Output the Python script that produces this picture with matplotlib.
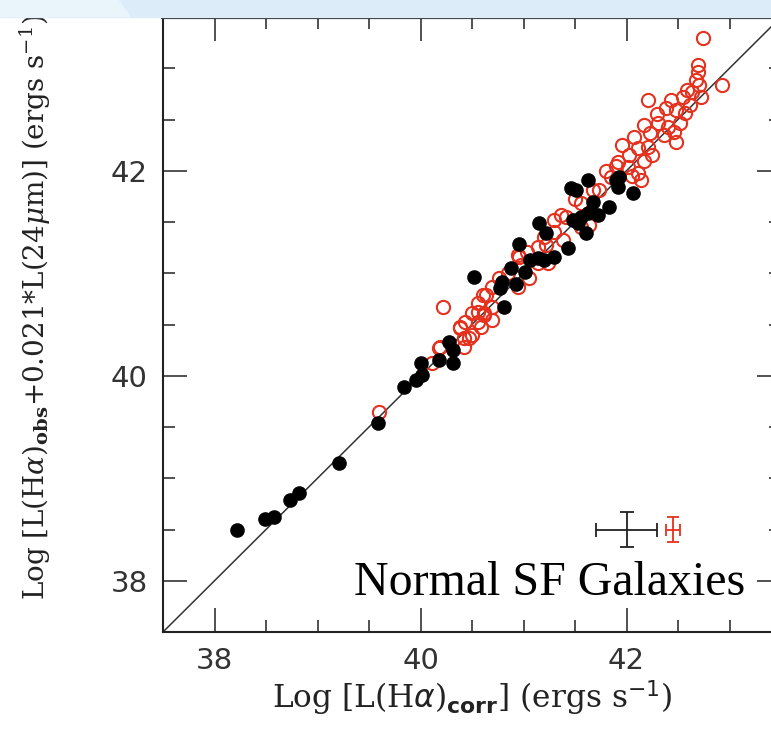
import numpy as np
import matplotlib
matplotlib.use('Agg')
import matplotlib.pyplot as plt
from matplotlib.ticker import MultipleLocator
from matplotlib.patches import Rectangle, Polygon

# black filled points (log L(Ha)corr, log L(Ha)obs+0.021 L24)
black_x = [38.22, 38.49, 38.58, 38.73, 38.82, 39.21, 39.59, 39.84, 39.96, 40.01,
           40.00, 40.18, 40.28, 40.32, 40.32, 40.52, 40.81, 40.79, 40.77, 40.88,
           41.01, 40.93, 41.06, 41.14, 41.20, 40.96, 41.15, 41.22, 41.30, 41.43,
           41.48, 41.53, 41.56, 41.61, 41.63, 41.67, 41.72, 41.83, 41.46, 41.51,
           41.63, 41.90, 41.93, 41.92, 42.06]
black_y = [38.50, 38.60, 38.62, 38.79, 38.86, 39.15, 39.54, 39.89, 39.96, 40.01,
           40.12, 40.15, 40.33, 40.25, 40.12, 40.96, 40.67, 40.91, 40.86, 41.05,
           41.01, 40.90, 41.13, 41.15, 41.13, 41.29, 41.49, 41.39, 41.16, 41.25,
           41.52, 41.49, 41.55, 41.39, 41.59, 41.70, 41.57, 41.65, 41.83, 41.81,
           41.91, 41.91, 41.94, 41.84, 41.78]

# red open circles
red_x = [39.60, 40.22, 40.18, 40.11, 40.38, 40.47, 40.42, 40.56, 40.62, 40.64,
         40.69, 40.56, 40.69, 40.95, 40.96,
         42.21, 42.48, 42.57, 42.52, 42.46, 42.17, 42.31, 42.40, 42.07, 42.23,
         41.96, 42.11, 42.21, 42.48, 42.36, 41.92, 42.01, 42.17, 42.11, 42.14,
         41.85, 41.73, 41.67, 41.41, 41.36, 41.30, 41.56, 41.64, 41.56, 41.30,
         41.38, 41.22, 41.14, 41.03, 41.14, 41.24, 40.95, 40.98, 40.76, 40.69,
         40.61, 40.56, 40.62, 40.50, 40.43, 40.38, 40.19, 40.42, 40.50, 40.59,
         42.74, 42.69, 42.69, 42.67, 42.93, 42.70, 42.59, 42.55, 42.64, 42.43,
         42.72, 42.38, 42.62,
         41.80, 42.02, 42.30, 41.50, 41.20, 40.85, 41.05, 42.05, 41.90, 42.25]
red_y = [39.65, 40.67, 40.27, 40.12, 40.48, 40.37, 40.28, 40.52, 40.61, 40.79,
         40.67, 40.62, 40.54, 40.87, 41.16,
         42.69, 42.59, 42.56, 42.47, 42.38, 42.45, 42.47, 42.43, 42.33, 42.37,
         42.25, 42.22, 42.23, 42.28, 42.35, 42.09, 42.04, 42.10, 41.98, 41.91,
         41.94, 41.81, 41.81, 41.55, 41.57, 41.52, 41.69, 41.47, 41.45, 41.40,
         41.32, 41.28, 41.26, 41.21, 41.10, 41.10, 41.18, 41.08, 40.95, 40.87,
         40.79, 40.71, 40.59, 40.61, 40.52, 40.47, 40.28, 40.37, 40.40, 40.48,
         43.30, 43.03, 42.96, 42.89, 42.84, 42.84, 42.79, 42.72, 42.77, 42.69,
         42.72, 42.61, 42.64,
         42.00, 42.15, 42.55, 41.72, 41.35, 41.00, 40.95, 41.95, 42.05, 42.15]

# typical error bars
err_black = dict(x=42.0, y=38.5, xerr=0.30, yerr=0.175)
err_red = dict(x=42.45, y=38.5, xerr=0.065, yerr=0.12)

W, H = 771, 734
fig = plt.figure(figsize=(W/100, H/100), dpi=100)
ax = fig.add_axes([163/W, (H-632)/H, 618/W, 615/H])

lims = (37.5, 43.5)
ax.plot(lims, lims, color='#333333', lw=1.1, zorder=1)

ax.plot(red_x, red_y, 'o', ms=9.5, mfc='none', mec='#e5321f', mew=1.5, zorder=2)
ax.plot(black_x, black_y, 'o', ms=9.5, color='black', mec='black', zorder=3)

ax.errorbar(err_black['x'], err_black['y'], xerr=err_black['xerr'], yerr=err_black['yerr'],
            color='#222222', lw=1.3, capsize=5, capthick=1.3, zorder=3)
ax.errorbar(err_red['x'], err_red['y'], xerr=err_red['xerr'], yerr=err_red['yerr'],
            color='#e5321f', lw=1.3, capsize=4, capthick=1.3, zorder=3)

ax.set_xlim(lims)
ax.set_ylim(lims)
ax.xaxis.set_major_locator(MultipleLocator(2))
ax.xaxis.set_minor_locator(MultipleLocator(0.5))
ax.yaxis.set_major_locator(MultipleLocator(2))
ax.yaxis.set_minor_locator(MultipleLocator(0.5))
ax.tick_params(which='both', direction='in', top=True, right=True, color='#222222')
ax.tick_params(which='major', length=17.5, width=1.1, labelsize=21, pad=11)
ax.tick_params(which='minor', length=8.5, width=1.1)
for lab in ax.get_xticklabels() + ax.get_yticklabels():
    lab.set_color('#333333')
for s in ax.spines.values():
    s.set_linewidth(1.5)
    s.set_color('#222222')
ax.spines['top'].set_linewidth(3)

plt.rcParams['mathtext.fontset'] = 'dejavuserif'
ax.set_xlabel(r'Log [L(H$\alpha$)$_{\mathbf{corr}}$] (ergs s$^{-1}$)',
              family='DejaVu Serif', fontsize=22.5, color='#222222', labelpad=2)
# y label runs past the top edge, as in the original
fig.text(35/W, (H-600)/H,
         r'Log [L(H$\alpha$)$_{\mathbf{obs}}$+0.021*L(24$\mu$m)] (ergs s$^{-1}$)',
         family='DejaVu Serif', fontsize=20, color='#222222',
         rotation=90, ha='center', va='bottom')

ax.text(39.355, 37.86, 'Normal SF Galaxies', family='Liberation Serif',
        fontsize=34.5, ha='left', va='baseline', zorder=4)

# slide band at the top
fig.patches.append(Rectangle((0, (H-17)/H), 1, 17/H, transform=fig.transFigure,
                             color='#dcedf9', zorder=5))
fig.patches.append(Polygon([(0, (H-17)/H), (130/W, (H-17)/H), (118/W, 1), (0, 1)],
                           closed=True, transform=fig.transFigure,
                           color='#eaf4fb', zorder=6))

fig.savefig('out.png', dpi=100)
